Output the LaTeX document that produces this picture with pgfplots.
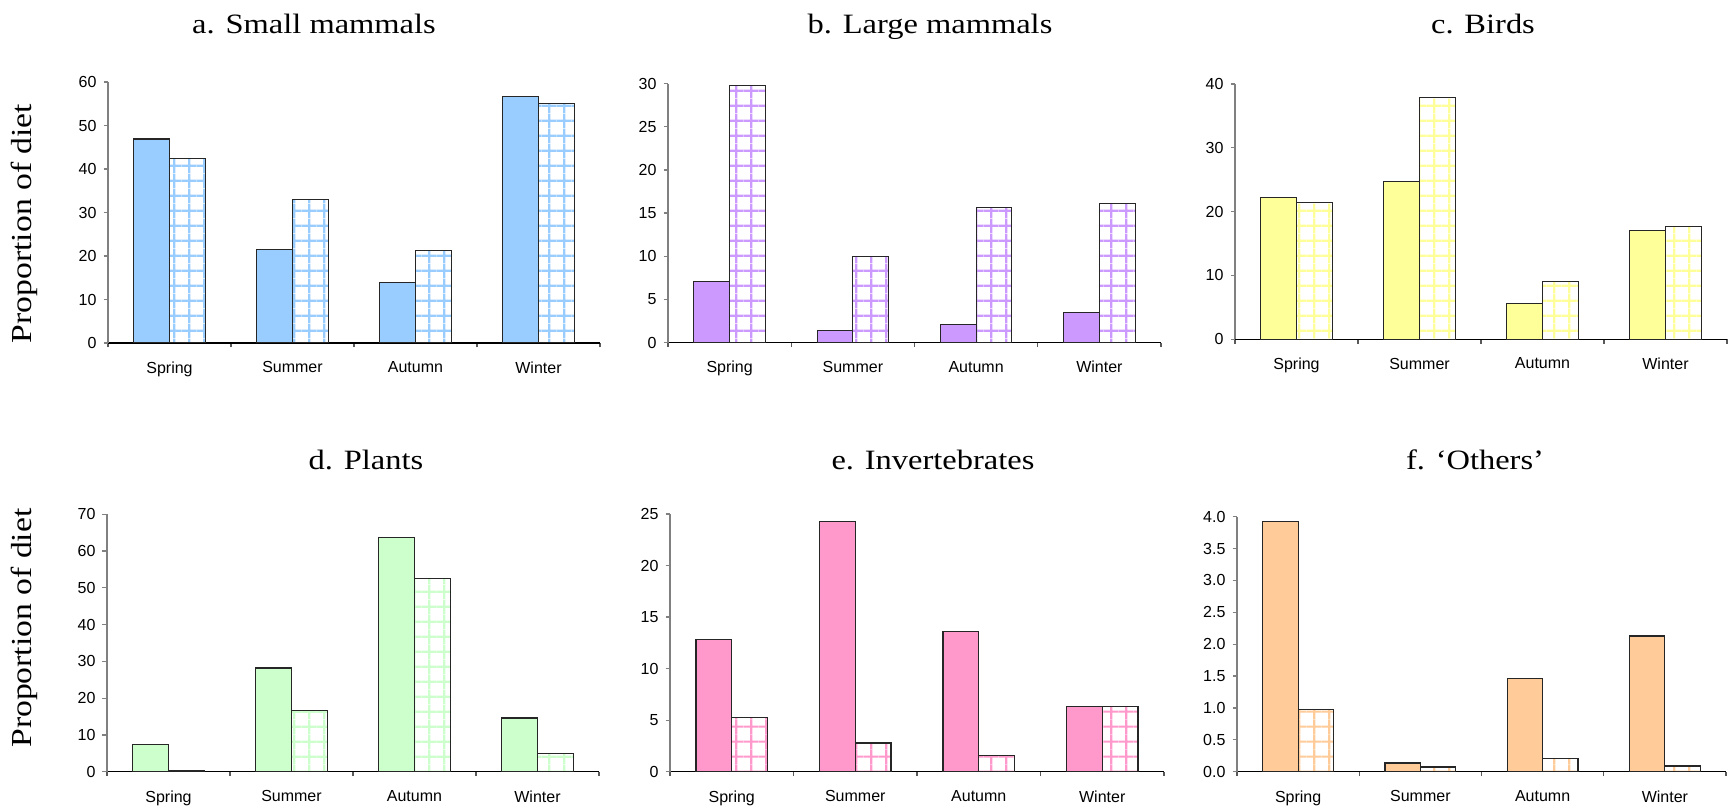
\documentclass[border=0pt]{standalone}
\usepackage{fontspec}
\setmainfont{Liberation Serif}
\setsansfont{Liberation Sans}
\newfontfamily\titlefont[FakeStretch=1.16]{Liberation Serif}
\usepackage{pgfplots}
\pgfplotsset{compat=1.18}
\usetikzlibrary{patterns.meta}

\definecolor{cA}{HTML}{99CCFF}
\definecolor{cB}{HTML}{CC99FF}
\definecolor{cC}{HTML}{FFFF99}
\definecolor{cD}{HTML}{CCFFCC}
\definecolor{cE}{HTML}{FF99CC}
\definecolor{cF}{HTML}{FFCC99}

\newcommand\mkgrid[1]{%
\tikzdeclarepattern{
  name=grid#1,
  type=colored,
  bounding box={(0pt,0pt) and (7.6pt,7.6pt)},
  tile size={(7.6pt,7.6pt)},
  code={
    \pgfsetfillcolor{white}
    \pgfpathrectangle{\pgfqpoint{0pt}{0pt}}{\pgfqpoint{7.6pt}{7.6pt}}
    \pgfusepath{fill}
    \pgfsetstrokecolor{c#1}
    \pgfsetlinewidth{1.1pt}
    \pgfpathmoveto{\pgfqpoint{3.8pt}{0pt}}
    \pgfpathlineto{\pgfqpoint{3.8pt}{7.6pt}}
    \pgfpathmoveto{\pgfqpoint{0pt}{3.8pt}}
    \pgfpathlineto{\pgfqpoint{7.6pt}{3.8pt}}
    \pgfusepath{stroke}
  }
}}
\mkgrid{A}\mkgrid{B}\mkgrid{C}\mkgrid{D}\mkgrid{E}\mkgrid{F}

\pgfplotsset{
  panel/.style={
    scale only axis,
    anchor=south west,
    axis x line*=bottom,
    axis y line*=left,
    x axis line style={-, draw=black, line width=0.6pt},
    y axis line style={-, draw=gray, line width=0.6pt},
    xmin=0.5, xmax=4.5, ymin=0,
    enlargelimits=false,
    xtick={1,2,3,4},
    xticklabels={Spring,Summer,Autumn,Winter},
    major x tick style={draw=none},
    minor xtick={0.5,1.5,2.5,3.5,4.5},
    minor x tick style={draw=gray!70!black, line width=0.6pt},
    y tick style={draw=gray, line width=0.6pt},
    tick align=outside,
    major tick length=2.25pt,
    minor tick length=2.25pt,
    ticklabel style={font=\sffamily\fontsize{8}{9}\selectfont},
    /pgf/number format/assume math mode=true,
    x tick label style={yshift=-3.6pt},
    ybar, bar width=0.29,
  },
  solidbar/.style={fill=c#1, draw=black!85, line width=0.6pt, bar shift=-0.145},
  hatchbar/.style={pattern=grid#1, draw=black!85, line width=0.6pt, bar shift=0.145},
}

\begin{document}
\begin{tikzpicture}
\useasboundingbox (0,0) rectangle (865.5pt,404.5pt);

% a. Small mammals
\begin{axis}[panel, at={(54pt,233pt)}, width=246pt, height=130.5pt,
  ymax=60, ytick={0,10,...,60}]
\addplot[solidbar=A] coordinates {(1,46.9) (2,21.5) (3,13.9) (4,56.6)};
\addplot[hatchbar=A] coordinates {(1,42.5) (2,32.9) (3,21.3) (4,55.1)};
\end{axis}

% b. Large mammals
\begin{axis}[panel, at={(334pt,233.2pt)}, width=246.5pt, height=129.5pt,
  ymax=30, ytick={0,5,...,30}]
\addplot[solidbar=B] coordinates {(1,7.1) (2,1.4) (3,2.13) (4,3.48)};
\addplot[hatchbar=B] coordinates {(1,29.8) (2,9.93) (3,15.66) (4,16.1)};
\end{axis}

% c. Birds
\begin{axis}[panel, at={(617.5pt,234.9pt)}, width=246pt, height=127.6pt,
  ymax=40, ytick={0,10,...,40}]
\addplot[solidbar=C] coordinates {(1,22.2) (2,24.7) (3,5.6) (4,17.0)};
\addplot[hatchbar=C] coordinates {(1,21.4) (2,37.9) (3,9.0) (4,17.65)};
\end{axis}

% d. Plants
\begin{axis}[panel, at={(53.5pt,18.65pt)}, width=246pt, height=128.7pt,
  ymax=70, ytick={0,10,...,70}]
\addplot[solidbar=D] coordinates {(1,7.3) (2,28.2) (3,63.6) (4,14.6)};
\addplot[hatchbar=D] coordinates {(1,0.4) (2,16.6) (3,52.5) (4,5.0)};
\end{axis}

% e. Invertebrates
\begin{axis}[panel, at={(335pt,18.65pt)}, width=247pt, height=128.85pt,
  ymax=25, ytick={0,5,...,25}]
\addplot[solidbar=E] coordinates {(1,12.8) (2,24.25) (3,13.6) (4,6.35)};
\addplot[hatchbar=E] coordinates {(1,5.28) (2,2.78) (3,1.55) (4,6.35)};
\end{axis}

% f. Others
\begin{axis}[panel, at={(618.5pt,18.65pt)}, width=244.5pt, height=127.5pt,
  ymax=4, ytick={0,0.5,...,4},
  yticklabel style={/pgf/number format/.cd, fixed, fixed zerofill, precision=1}]
\addplot[solidbar=F] coordinates {(1,3.92) (2,0.136) (3,1.46) (4,2.13)};
\addplot[hatchbar=F] coordinates {(1,0.97) (2,0.073) (3,0.204) (4,0.089)};
\end{axis}

\begin{scope}[every node/.style={font=\titlefont\fontsize{14}{16}\selectfont, anchor=base}]
\node at (157pt,387.85pt) {a. Small mammals};
\node at (465pt,387.85pt) {b. Large mammals};
\node at (741.5pt,387.85pt) {c. Birds};
\node at (183pt,169.85pt) {d. Plants};
\node at (466.5pt,169.85pt) {e. Invertebrates};
\node at (737.5pt,169.85pt) {f. ‘Others’};
\end{scope}
\node[rotate=90, font=\titlefont\fontsize{14.5}{16}\selectfont] at (12pt,292.75pt) {Proportion of diet};
\node[rotate=90, font=\titlefont\fontsize{14.5}{16}\selectfont] at (12pt,90.5pt) {Proportion of diet};
\end{tikzpicture}
\end{document}
